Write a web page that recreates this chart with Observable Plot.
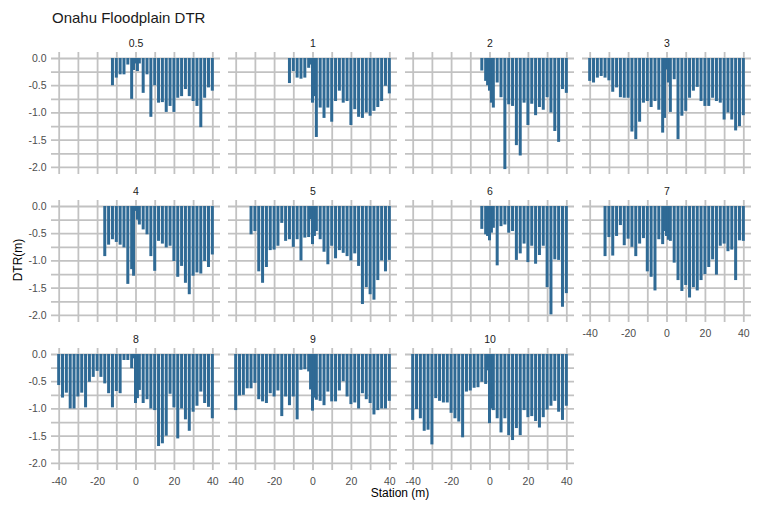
<!DOCTYPE html>
<html><head><meta charset="utf-8">
<script src="https://cdn.jsdelivr.net/npm/d3@7"></script>
<script src="https://cdn.jsdelivr.net/npm/@observablehq/plot@0.6"></script>
<style>
body{margin:0;background:#fff;font-family:"Liberation Sans",Arial,sans-serif;}
#wrap{position:relative;width:769px;height:506px;overflow:hidden;}
#chart{position:absolute;left:0;top:0;}
#title{position:absolute;left:52px;top:10px;font-size:15px;line-height:15px;color:#1a1a1a;white-space:nowrap;}
#xlab{position:absolute;left:300px;width:200px;top:486px;height:14px;line-height:14px;font-size:12px;text-align:center;color:#000;}
#ylab{position:absolute;left:18px;top:260px;font-size:12px;line-height:14px;color:#000;white-space:nowrap;transform:translate(-50%,-50%) rotate(-90deg);}
</style></head>
<body>
<div id="wrap">
<div id="chart"></div>
<div id="title">Onahu Floodplain DTR</div>
<div id="xlab">Station (m)</div>
<div id="ylab">DTR(m)</div>
</div>
<script>
const stations = [-40,-38,-36,-34,-32,-30,-28,-26,-24,-22,-20,-18,-16,-14,-12,-10,-8,-6,-4,-2,-1,0,1,2,4,6,8,10,12,14,16,18,20,22,24,26,28,30,32,34,36,38,40];
const N = null;
const dtr_0_5 = [N,N,N,N,N,N,N,N,N,N,N,N,N,N,-0.50,-0.36,-0.30,-0.30,-0.12,-0.75,-0.22,-0.10,-0.24,-0.10,-0.64,-0.30,-1.08,-0.50,-0.82,-0.81,-0.99,-0.88,-0.99,-0.73,-0.70,-0.57,-0.70,-0.79,-0.88,-1.27,-0.73,-0.54,-0.60];
const dtr_1 = [N,N,N,N,N,N,N,N,N,N,N,N,N,N,-0.46,-0.24,-0.36,-0.38,-0.36,-0.18,-0.12,-0.82,-0.70,-1.45,-0.91,-1.10,-0.91,-1.17,-0.79,-0.60,-0.82,-0.79,-1.23,-0.94,-1.08,-1.10,-1.00,-1.06,-0.97,-0.90,-0.79,-0.51,-0.65];
const dtr_2 = [N,N,N,N,N,N,N,N,N,N,N,N,N,N,N,N,N,N,-0.23,-0.42,-0.50,-0.60,-0.82,-0.91,-0.45,-0.72,-2.04,-0.85,-0.88,-1.60,-1.79,-0.82,-1.23,-0.84,-1.05,-0.90,-0.95,-0.72,-1.00,-1.34,-1.54,-0.57,-0.64];
const dtr_3 = [-0.42,-0.45,-0.36,-0.33,-0.36,-0.41,-0.62,-0.54,-0.72,-0.73,-0.73,-1.35,-1.49,-1.17,-0.82,-0.79,-0.90,-0.79,-0.95,-1.37,-1.10,-0.21,-0.45,-0.99,-0.39,-1.49,-1.06,-0.97,-0.73,-0.60,-0.53,-0.79,-0.88,-0.88,-0.73,-0.79,-0.82,-1.13,-1.00,-1.13,-1.33,-1.25,-1.05];
const dtr_4 = [N,N,N,N,N,N,N,N,N,N,N,N,-0.92,-0.71,-0.61,-0.66,-0.71,-0.76,-1.43,-1.16,-1.28,-0.09,-0.25,-0.34,-0.43,-0.52,-0.92,-1.19,-0.64,-0.69,-0.76,-0.73,-1.01,-1.30,-1.10,-1.41,-1.62,-1.28,-1.22,-1.24,-1.01,-1.12,-0.89];
const dtr_5 = [N,N,N,N,-0.52,-0.46,-1.20,-1.41,-1.12,-0.81,-0.80,-0.73,-0.31,-0.64,-0.61,-0.75,-0.61,-1.00,-0.58,-0.57,-0.24,-0.70,-0.55,-0.46,-0.61,-0.84,-1.07,-0.73,-0.96,-0.81,-0.86,-0.92,-1.00,-0.87,-1.10,-1.80,-1.49,-1.62,-1.72,-1.36,-1.00,-1.20,-0.99];
const dtr_6 = [N,N,N,N,N,N,N,N,N,N,N,N,N,N,N,N,N,N,-0.42,-0.52,-0.55,-0.63,-0.49,-0.40,-1.09,-0.37,-0.34,-0.49,-0.46,-0.99,-0.87,-0.69,-1.03,-0.73,-1.06,-0.90,-0.73,-1.49,-1.99,-0.98,-0.99,-1.85,-1.60];
const dtr_7 = [N,N,N,N,-0.92,-0.57,-0.91,-0.55,-0.35,-0.72,-0.60,-0.75,-0.92,-0.69,-0.59,-1.20,-1.30,-1.55,-0.61,-0.70,-0.46,-0.55,-0.62,-0.64,-1.04,-1.36,-1.56,-1.45,-1.68,-1.49,-1.55,-1.36,-1.25,-1.12,-0.98,-1.26,-0.73,-0.69,-0.83,-0.80,-1.36,-0.63,-0.64];
const dtr_8 = [-0.57,-0.80,-0.71,-1.00,-1.00,-0.78,-0.71,-0.98,-0.51,-0.42,-0.31,-0.42,-0.54,-0.72,-0.98,-0.68,-0.72,-0.11,-0.11,-0.26,-0.08,-0.90,-0.81,-0.66,-0.90,-0.83,-1.00,-1.03,-1.69,-1.64,-1.50,-0.73,-0.98,-1.55,-1.00,-1.20,-1.41,-1.06,-0.95,-0.69,-0.90,-0.97,-1.18];
const dtr_9 = [-1.03,-0.76,-0.75,-0.63,-0.63,-0.53,-0.83,-0.87,-0.90,-0.72,-0.78,-0.67,-1.14,-0.78,-0.94,-0.78,-1.20,-0.29,-0.28,-0.32,-0.65,-1.04,-0.80,-0.84,-0.86,-0.94,-0.69,-0.87,-0.87,-0.67,-0.50,-0.78,-0.92,-0.89,-1.00,-0.72,-0.83,-0.90,-1.11,-1.03,-1.00,-1.00,-0.86];
const dtr_10 = [-1.21,-1.01,-1.18,-1.41,-1.39,-1.66,-0.81,-0.86,-0.89,-0.89,-1.08,-1.18,-1.24,-1.53,-0.69,-0.67,-0.62,-0.61,-0.51,-0.55,-0.30,-1.27,-1.00,-1.03,-1.18,-1.44,-1.18,-1.49,-1.58,-1.36,-1.49,-1.03,-1.16,-1.14,-1.23,-1.35,-1.16,-1.02,-0.95,-0.86,-1.06,-1.21,-0.95];

const panels = ["0.5","1","2","3","4","5","6","7","8","9","10"];
const series = [dtr_0_5,dtr_1,dtr_2,dtr_3,dtr_4,dtr_5,dtr_6,dtr_7,dtr_8,dtr_9,dtr_10];
const xTickValues = [-40,-20,0,20,40];
const xGridValues = [-40,-30,-20,-10,0,10,20,30,40];
const yTickValues = [0,-0.5,-1,-1.5,-2];
const yGridValues = [0,-0.25,-0.5,-0.75,-1,-1.25,-1.5,-1.75,-2];

const rows = [];
panels.forEach((p, i) => {
  series[i].forEach((v, j) => {
    if (v != null) rows.push({panel: p, col: i % 4, row: Math.floor(i / 4), station: stations[j], dtr: v});
  });
});
const labels = panels.map((p, i) => ({panel: p, col: i % 4, row: Math.floor(i / 4)}));

const half = 0.78;
const chart = Plot.plot({
  width: 769, height: 506,
  marginLeft: 50, marginRight: 18, marginTop: 51, marginBottom: 36,
  style: {fontFamily: "'Liberation Sans', Arial, sans-serif", background: "transparent", overflow: "visible"},
  fx: {domain: [0,1,2,3], paddingInner: 0.048, paddingOuter: 0, axis: null},
  fy: {domain: [0,1,2], paddingInner: 0.178, paddingOuter: 0, axis: null},
  x: {domain: [-44, 44]},
  y: {domain: [-2.13, 0.11]},
  marks: [
    Plot.gridX({ticks: xGridValues, stroke: "#c2c2c2", strokeOpacity: 1, strokeWidth: 1.8}),
    Plot.gridY({ticks: yGridValues, stroke: "#c2c2c2", strokeOpacity: 1, strokeWidth: 1.8}),
    Plot.rect(rows, {fx: "col", fy: "row", x1: d => d.station - half, x2: d => d.station + half, y1: 0, y2: "dtr", fill: "#2f6a95"}),
    Plot.axisX({ticks: xTickValues, facetAnchor: "bottom-empty", tickSize: 0, tickPadding: 7, tickFormat: d => String(d), fontSize: 10.5, color: "#4d4d4d", label: null}),
    Plot.axisY({ticks: yTickValues, facetAnchor: "left", tickSize: 0, tickPadding: 5, tickFormat: d => d.toFixed(1), fontSize: 10.5, color: "#4d4d4d", label: null}),
    Plot.text(labels, {fx: "col", fy: "row", text: "panel", frameAnchor: "top", dy: -6, lineAnchor: "bottom", fontSize: 10.5, fill: "#1a1a1a"})
  ]
});
document.getElementById("chart").appendChild(chart);
</script>
</body></html>
